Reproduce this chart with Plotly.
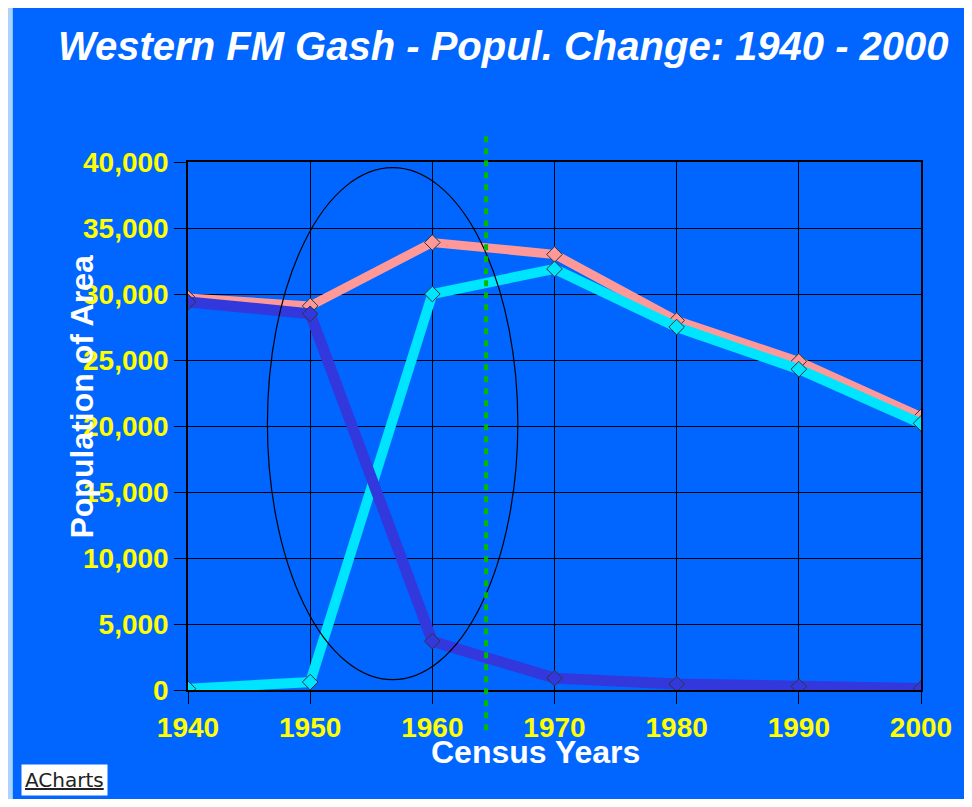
import plotly.graph_objects as go

# census years and population series
years = [1940, 1950, 1960, 1970, 1980, 1990, 2000]
total_pop = [29700, 29100, 33900, 33000, 28000, 24900, 20700]
town_pop = [100, 600, 30000, 31900, 27500, 24300, 20200]
rural_pop = [29400, 28500, 3700, 900, 450, 270, 120]

y_ticks = [0, 5000, 10000, 15000, 20000, 25000, 30000, 35000, 40000]
y_tick_text = ["0", "5,000", "10,000", "15,000", "20,000", "25,000", "30,000", "35,000", "40,000"]

marker_year = 1964.4
ellipse_x = [1946.5, 1967.0]
ellipse_y = [780, 39570]

FONT = "Arial, Liberation Sans, sans-serif"
BLUE_BG = "#0066ff"

series = [
    (total_pop, "#ff9999", 9),
    (town_pop, "#00e5ff", 10),
    (rural_pop, "#3338dd", 11),
]

fig = go.Figure()
for values, color, width in series:
    fig.add_trace(go.Scatter(
        x=years, y=values,
        mode="lines+markers",
        line=dict(color=color, width=width),
        marker=dict(symbol="diamond", size=12, color=color,
                    line=dict(color="#333333", width=1)),
        hoverinfo="x+y",
    ))

# the page body has an 8px margin, so the figure is kept 16px smaller
fig.update_layout(
    width=956, height=791,
    showlegend=False,
    paper_bgcolor="#aad4ff",
    plot_bgcolor="#eaeaea",
    margin=dict(l=180, r=33, t=154, b=109),
    font=dict(family=FONT),
    xaxis=dict(
        range=[1940, 2000],
        tickvals=years,
        ticks="outside", ticklen=12, tickcolor="black",
        showgrid=True, gridcolor="black", gridwidth=1,
        showline=True, linecolor="black", linewidth=1.5, mirror=True,
        zeroline=False,
        tickfont=dict(family=FONT, size=28, color="yellow", weight="bold"),
    ),
    yaxis=dict(
        range=[0, 40000],
        tickvals=y_ticks, ticktext=y_tick_text,
        ticks="outside", ticklen=12, tickcolor="black",
        showgrid=True, gridcolor="black", gridwidth=1,
        showline=True, linecolor="black", linewidth=1.5, mirror=True,
        zeroline=False,
        tickfont=dict(family=FONT, size=28, color="yellow", weight="bold"),
    ),
)

# blue page area inside the light border
fig.add_shape(type="rect", xref="paper", yref="paper",
              x0=-0.239, x1=1.1, y0=-0.3, y1=1.295,
              fillcolor=BLUE_BG, line=dict(width=0), layer="below")

# circled period and the dotted marker line
fig.add_shape(type="circle", xref="x", yref="y",
              x0=ellipse_x[0], x1=ellipse_x[1], y0=ellipse_y[0], y1=ellipse_y[1],
              line=dict(color="black", width=1.2), layer="above")
fig.add_shape(type="line", xref="x", yref="paper",
              x0=marker_year, x1=marker_year, y0=-0.076, y1=1.055,
              line=dict(color="#00bb00", width=4, dash="6px,6px"), layer="above")

fig.add_annotation(text="<i>Western FM Gash - Popul. Change: 1940 - 2000</i>",
                   xref="paper", yref="paper", x=0.4301, y=1.2197,
                   xanchor="center", yanchor="middle", showarrow=False,
                   font=dict(family=FONT, size=40, color="white", weight="bold"))
fig.add_annotation(text="Population of Area", textangle=-90,
                   xref="paper", yref="paper", x=-0.1452, y=0.555,
                   xanchor="center", yanchor="middle", showarrow=False,
                   font=dict(family=FONT, size=32, color="white", weight="bold"))
fig.add_annotation(text="Census Years",
                   xref="paper", yref="paper", x=0.4745, y=-0.117,
                   xanchor="center", yanchor="middle", showarrow=False,
                   font=dict(family=FONT, size=32, color="white", weight="bold"))
fig.add_annotation(text="<u>ACharts</u>",
                   xref="paper", yref="paper", x=-0.2285, y=-0.2,
                   xanchor="left", yanchor="bottom", showarrow=False,
                   bgcolor="white", borderpad=3,
                   font=dict(family="DejaVu Sans", size=20, color="#222222"))

fig.write_html("out.html")
